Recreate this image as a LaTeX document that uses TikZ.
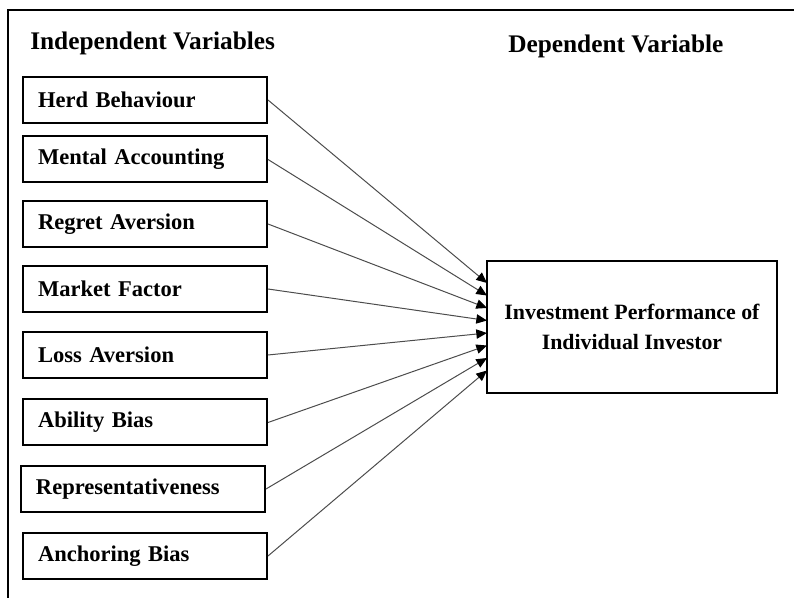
\documentclass[tikz,border=0pt]{standalone}
\usepackage{fontspec}
\setmainfont{Liberation Serif}
\usetikzlibrary{positioning, arrows.meta, calc}

\begin{document}
\begin{tikzpicture}[x=0.75pt, y=-0.75pt, >={Triangle[length=8pt, width=7pt, color=black]},
	varbox/.style={draw, line width=1.5pt, anchor=west, text width=160.5pt, inner xsep=11.25pt,
		minimum height=34.5pt, align=left, font=\fontsize{16.9}{20}\bfseries\selectfont},
	perfbox/.style={draw, line width=1.5pt, minimum width=217.5pt, minimum height=99pt,
		align=center, font=\fontsize{16.4}{22.5}\bfseries\selectfont},
	heading/.style={anchor=base west, inner sep=0pt, font=\fontsize{19}{22}\bfseries\selectfont},
	link/.style={->, line width=0.75pt, black!70}]
	
	% Parámetros de dibujo
	\def\xL{22}      % borde izquierdo de las cajas
	\def\xT{487}     % borde izquierdo de la caja dependiente
	
	\useasboundingbox (0,0) rectangle (794,598);
	
	% --- 1. MARCO ---
	\draw[line width=1.5pt] (8,598) -- (8,10) -- (794,10);
	
	% --- 2. TÍTULOS ---
	\node[heading] (indep) at (30,50) {Independent Variables};
	\node[heading] (dep) at (508,53) {Dependent Variable};
	
	% --- 3. VARIABLES INDEPENDIENTES ---
	\node[varbox] (herd)   at (\xL,100)   {Herd Behaviour};
	\node[varbox] (mental) at (\xL,159.5) {Mental Accounting};
	\node[varbox] (regret) at (\xL,224)   {Regret Aversion};
	\node[varbox] (market) at (\xL,289)   {Market Factor};
	\node[varbox] (loss)   at (\xL,355)   {Loss Aversion};
	\node[varbox] (ability) at (\xL,422.5) {Ability Bias};
	\node[varbox] (repr)   at (20,489)    {Representativeness};
	\node[varbox] (anchor) at (\xL,556)   {Anchoring Bias};
	
	% --- 4. VARIABLE DEPENDIENTE ---
	\node[perfbox] (perf) at (632,327) {Investment Performance of\\Individual Investor};
	
	% Puntos de llegada de las flechas
	\coordinate (in1) at (\xT,283);
	\coordinate (in2) at (\xT,295.5);
	\coordinate (in3) at (\xT,308);
	\coordinate (in4) at (\xT,320.5);
	\coordinate (in5) at (\xT,333);
	\coordinate (in6) at (\xT,345.5);
	\coordinate (in7) at (\xT,358);
	\coordinate (in8) at (\xT,370.5);
	
	% --- 5. FLECHAS ---
	\draw[link] (herd.east) -- (in1);
	\draw[link] (mental.east) -- (in2);
	\draw[link] (regret.east) -- (in3);
	\draw[link] (market.east) -- (in4);
	\draw[link] (loss.east) -- (in5);
	\draw[link] (ability.east) -- (in6);
	\draw[link] (repr.east) -- (in7);
	\draw[link] (anchor.east) -- (in8);
	
\end{tikzpicture}
\end{document}
